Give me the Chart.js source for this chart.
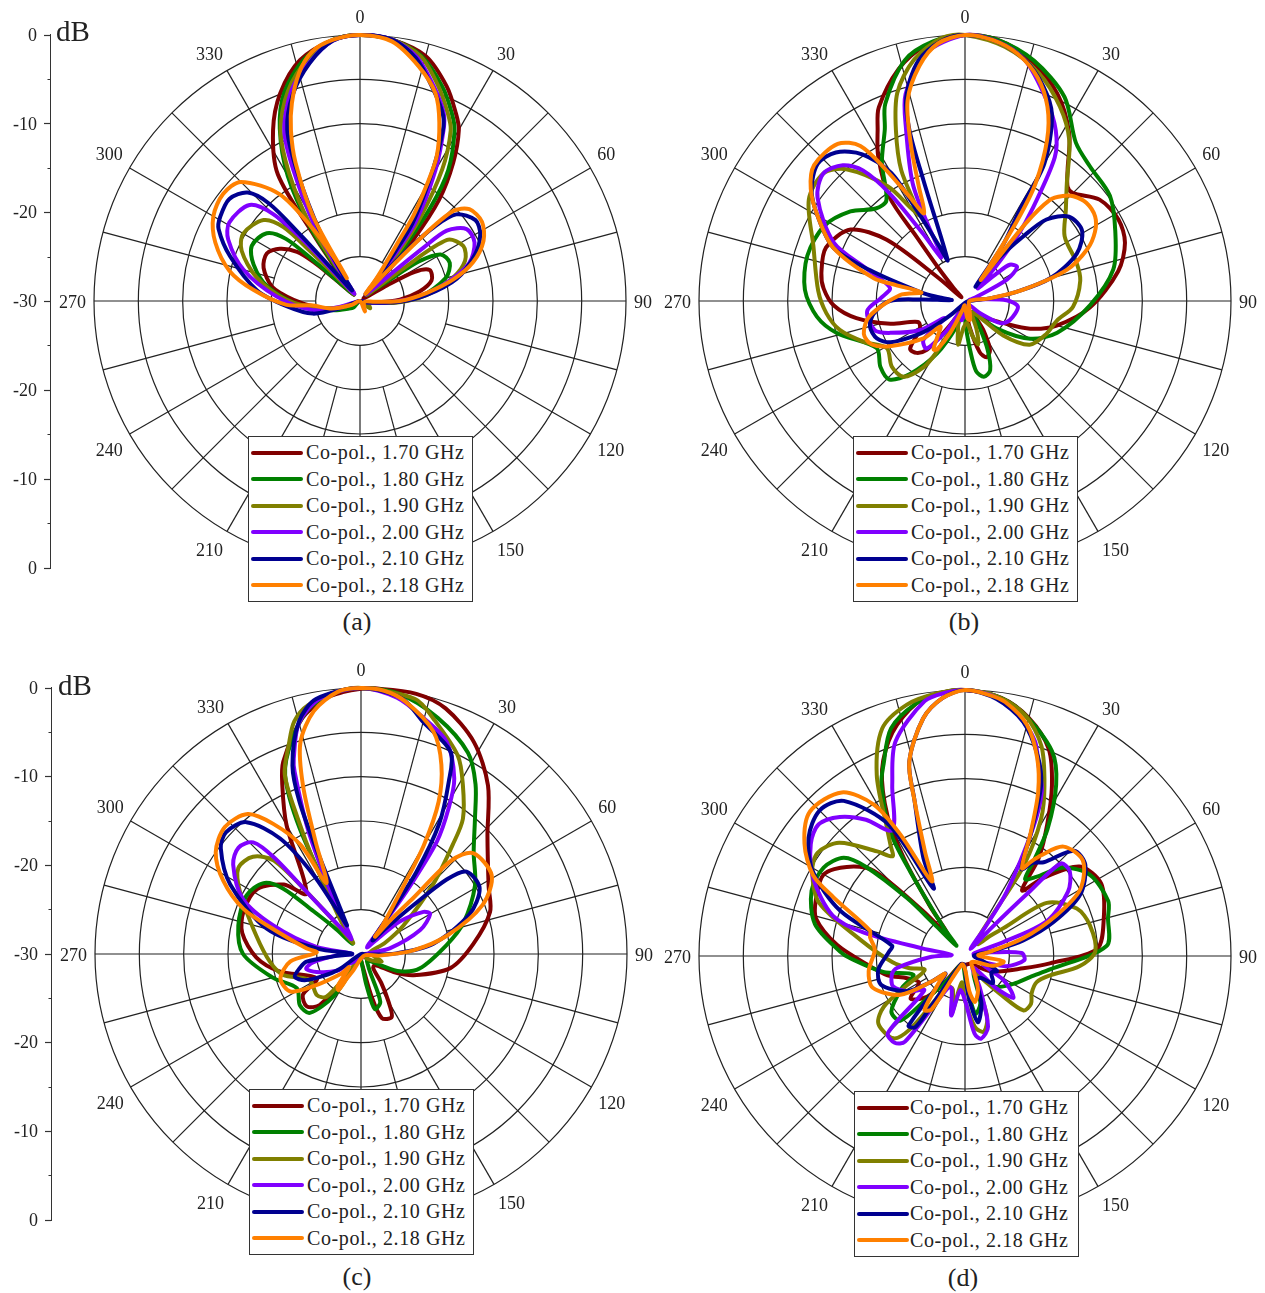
<!DOCTYPE html>
<html>
<head>
<meta charset="utf-8">
<title>Co-pol. radiation patterns</title>
<script src="https://cdn.jsdelivr.net/npm/chart.js@4"></script>
<style>
  html, body { margin: 0; padding: 0; background: #fff; }
  #page { position: relative; width: 1265px; height: 1293px; overflow: hidden; font-family: 'Liberation Serif', serif; color: #222; }
  #page canvas { position: absolute; }
  .legend { position: absolute; width: 223px; height: 164px; background: #fff; border: 1px solid #333; }
  .legend div { position: absolute; font-size: 20px; letter-spacing: .6px; line-height: 22px; white-space: nowrap; }
  .legend i { position: absolute; left: 2px; width: 52px; height: 4px; border-radius: 2px; }
  .cap { position: absolute; font-size: 26px; transform: translateX(-50%); }
  .unit { position: absolute; font-size: 29px; }
</style>
</head>
<body>
<div id="page"></div>
<script>
const seriesNames = ['Co-pol., 1.70 GHz', 'Co-pol., 1.80 GHz', 'Co-pol., 1.90 GHz', 'Co-pol., 2.00 GHz', 'Co-pol., 2.10 GHz', 'Co-pol., 2.18 GHz'];
const seriesColors = ['#800000', '#008000', '#808000', '#8000ff', '#000090', '#ff8000'];
const angleLabels = Array.from({ length: 360 }, (_, i) => i);
const axisTicks = [-30, -25, -20, -15, -10, -5, 0, 5, 10, 15, 20, 25, 30];

// [angle in degrees, gain in dB]
const a170 = [[0,0],[7,-.3],[15,-1.4],[22,-3.9],[27,-6.2],[30,-7.7],[34,-11.2],[38,-15.5],[41,-20.9],[44,-26.7],[47,-29],[55,-29.5],[60,-26.5],[62,-23],[66,-21.4],[74,-21.6],[81,-23.2],[88,-25.5],[94,-28],[105,-29.6],[180,-30],[240,-29.4],[250,-27.6],[262,-25],[271,-22.5],[279,-20],[289,-18.5],[297,-18.2],[303,-19.2],[308,-21],[310,-23.1],[311,-26],[316,-29],[321,-28.5],[323,-26],[325,-21],[327,-13],[333,-8.4],[339,-4.9],[346,-2],[354,-.4]];
const a180 = [[0,0],[7,-.3],[14,-1.5],[21,-4.1],[26,-6.4],[29,-8],[34,-12.2],[37,-16.8],[40,-23],[43,-27],[46,-29],[52,-28],[55,-25],[56,-22],[60,-19.5],[67,-19],[75,-20],[86,-23.2],[92,-26.5],[100,-29],[125,-29],[180,-30],[225,-29],[235,-28.5],[251,-26.8],[266,-23.2],[279,-19.4],[289,-17.3],[297,-16.3],[306,-17],[310,-19.1],[311,-23],[312,-27],[318,-29],[324,-26],[326,-20],[330,-13.7],[335,-8.6],[340,-5],[347,-2],[354,-.4]];
const a190 = [[0,0],[7,-.3],[14,-1.6],[20,-4.2],[25,-6.6],[28,-8.2],[32,-12.5],[36,-18.6],[39,-24],[41,-27],[45,-29],[51,-28],[53,-24],[55,-18],[62,-16.8],[69,-17.3],[76,-19.2],[85,-22.5],[93,-26],[100,-29],[126,-28.6],[150,-30],[210,-30],[250,-28],[260,-25.4],[271,-21.7],[283,-18],[293,-15.5],[300,-14.8],[310,-15.8],[314,-18],[315,-22],[316,-26.7],[321,-29],[325,-26],[327,-19.5],[331,-13.5],[335,-8.8],[341,-5],[348,-2],[354,-.4]];
const a200 = [[0,0],[7,-.3],[13,-1.7],[19,-4.4],[24,-6.8],[26,-8.5],[30,-13],[35,-19],[37,-24],[38,-27],[42,-29],[47,-28],[49,-25],[50,-20.6],[51,-17.4],[56,-15.5],[63,-15.5],[71,-17],[78,-20],[86,-23.6],[93,-27],[100,-29],[180,-30],[254,-27.7],[259,-24.6],[273,-20.6],[285,-16.4],[295,-13.6],[301,-12.8],[311,-13.5],[315,-16.1],[317,-20.6],[318,-26],[322,-29],[326,-26],[329,-20],[333,-13.5],[336,-9],[342,-5],[348,-2.5],[354,-.5]];
const a210 = [[0,0],[7,-.3],[13,-1.9],[19,-4.7],[24,-7],[26,-8.7],[29,-13],[34,-19.4],[36,-25],[38,-28],[39,-29],[41,-26],[43,-21.7],[45,-18.2],[48,-15.4],[55,-14.1],[61,-14.5],[68,-16],[77,-18.8],[85,-22.5],[91,-25.5],[100,-29],[180,-30],[250,-27.5],[255,-24.5],[266,-21.7],[276,-18.3],[289,-14.5],[297,-12.1],[301,-11.6],[308,-11.3],[314,-12.4],[317,-15],[318,-19.8],[319,-25.4],[323,-28.5],[327,-26.5],[330,-21],[334,-14],[337,-9],[342,-5.5],[348,-2.6],[354,-.5]];
const a218 = [[0,0],[7,-.5],[14,-2.7],[20,-5.1],[24,-8],[28,-11.6],[30,-15.1],[32,-18.6],[33,-22.3],[36,-26.8],[38,-29],[42,-26],[44,-20],[46,-15.4],[50,-13.9],[57,-13.6],[64,-14.5],[71,-16.5],[77,-19.2],[83,-22.4],[90,-25.5],[93,-28.5],[105,-29.5],[155,-28.7],[180,-30],[245,-29],[255,-26.7],[265,-24.5],[267,-21.7],[276,-17.9],[283,-14.9],[292,-12.4],[300,-10.9],[308,-10.4],[315,-11],[323,-14.9],[327,-20.4],[329,-24.2],[330,-27],[331,-19.1],[335,-12.8],[338,-9.2],[341,-6.4],[345,-3.4],[349,-1.4],[354,-.4]];

const b170 = [[0,0],[7,-.3],[15,-1.8],[24,-4.4],[32,-7.8],[38,-11.2],[42,-12.7],[45,-12.8],[53,-11],[62,-10.4],[70,-10.8],[79,-12.4],[93,-15.9],[105,-19.3],[113,-22],[120,-25],[135,-27.5],[145,-28],[148,-26],[153,-23.8],[159,-23.2],[164,-24],[170,-27],[180,-29.5],[200,-29.5],[208,-28],[215,-25.1],[218,-23],[223,-22],[229,-21.8],[238,-24],[246,-24.2],[253,-21.2],[261,-17.6],[268,-15.2],[275,-14],[281,-13.5],[291,-13.2],[302,-14.8],[308,-18.8],[311,-26],[316,-29.4],[319,-28],[321,-25.5],[323,-20.9],[324,-15.5],[329,-11],[333,-8.3],[336,-6.1],[344,-2.8],[351,-.9]];
const b180 = [[0,0],[7,-.3],[16,-1.8],[26,-4.4],[35,-8.2],[43,-9.3],[54,-9.8],[65,-11.3],[78,-12.9],[92,-15.9],[109,-19],[120,-21.5],[131,-25.3],[145,-28.5],[150,-27],[155,-24],[160,-21.7],[166,-21.2],[171,-22],[174,-24.4],[178,-27],[190,-29],[198,-27],[208,-23.3],[217,-19.7],[224,-17.7],[232,-17.9],[242,-18.7],[256,-15.1],[264,-13.2],[274,-11.9],[286,-11.5],[298,-12],[308,-13.6],[316,-15.5],[322,-15.6],[329,-11.8],[335,-8.6],[338,-6],[346,-2],[353,-.5]];
const b190 = [[0,0],[9,-1],[18,-3],[26,-5.6],[33,-8.4],[41,-12.5],[48,-14.7],[57,-16.6],[71,-16.7],[80,-16.8],[93,-17.8],[102,-19.4],[112,-20.1],[124,-21.2],[132,-24.2],[140,-28],[150,-28.5],[158,-26.5],[163,-24.9],[168,-26],[175,-27.5],[183,-27],[189,-25],[195,-27],[200,-28],[207,-26.3],[209,-23.5],[212,-21.2],[219,-19],[228,-18.9],[239,-19.7],[248,-17.7],[257,-15.5],[265,-14.3],[274,-13.4],[290,-11.8],[303,-9],[312,-8.5],[318,-10],[326,-14.4],[330,-18],[332,-19],[334,-13.6],[338,-9.2],[342,-5.3],[348,-2.2],[355,-.2]];
const b200 = [[0,0],[7,-.5],[14,-2],[22,-5.5],[28,-8.2],[32,-10.9],[36,-16.9],[39,-20.7],[42,-25],[45,-28],[49,-25.3],[51,-23.5],[57,-23],[63,-24.7],[70,-28.6],[78,-29.5],[84,-28],[89,-25.3],[96,-24],[113,-24.5],[122,-25.3],[129,-27.8],[140,-29.5],[170,-29],[190,-27.8],[205,-28.5],[212,-26],[219,-23.1],[227,-23.6],[230,-27],[237,-24],[247,-20.8],[252,-19.3],[264,-18.9],[272,-20.5],[280,-21.4],[288,-18.4],[294,-13.8],[305,-9.7],[312,-8.5],[318,-9.4],[322,-11.3],[325,-15.2],[328,-21],[331,-24.4],[333,-24],[334,-20.6],[336,-15.5],[341,-9.6],[344,-5.7],[351,-1.7]];
const b210 = [[0,0],[7,-.5],[14,-2],[20,-4.2],[25,-6.8],[30,-12.1],[31,-18],[34,-22.2],[36,-28],[38,-24.2],[42,-20.2],[45,-17],[51,-14.9],[59,-14.6],[67,-16.3],[75,-20],[80,-24.1],[84,-27.2],[90,-29.5],[180,-29.8],[225,-28],[231,-25.4],[235,-23.3],[241,-20.4],[247,-19.2],[255,-18.9],[262,-19.6],[270,-21.5],[272,-25],[274,-28.5],[278,-27],[281,-25],[288,-18.7],[292,-14],[300,-10.8],[306,-8.6],[313,-7.3],[319,-7.8],[325,-9.8],[330,-13.3],[332,-18.4],[335,-23.3],[337,-25],[341,-15.6],[342,-9.7],[344,-6],[349,-2.4],[355,-.5]];
const b218 = [[0,0],[6,-.4],[12,-1.5],[18,-3.5],[23,-6.2],[27,-9.6],[31,-14.6],[33,-19.2],[35,-25],[37,-27],[38,-19],[40,-15.1],[43,-13.8],[46,-13],[51,-12.4],[57,-12.5],[62,-13.4],[67,-15],[73,-18],[79,-23.3],[84,-27.2],[90,-29.5],[150,-29],[165,-27.8],[172,-28],[185,-29.5],[195,-29],[205,-26],[210,-23.7],[213,-23.5],[218,-25],[224,-26],[228,-23.7],[239,-20.1],[245,-18.4],[252,-18],[261,-19.1],[275,-22.6],[281,-25],[283,-22],[284,-19.4],[292,-14],[300,-10.8],[306,-8.5],[312,-7.1],[321,-7.2],[326,-8.9],[329,-12.8],[332,-16.7],[335,-19.1],[338,-16.1],[341,-11.2],[344,-6.5],[349,-3],[354,-.8]];

const c170 = [[0,-.1],[3,0],[12,0],[19,-.7],[28,-2.9],[37,-6.2],[47,-10.5],[62,-13.7],[72,-14.7],[85,-17.3],[99,-19.8],[112,-23.6],[119,-25.8],[128,-28],[139,-27.9],[145,-26],[150,-23.8],[154,-22.1],[162,-22.4],[166,-25],[172,-28.5],[195,-29.5],[208,-28.5],[214,-27],[219,-22.6],[226,-21.5],[235,-22],[241,-24.3],[258,-20.6],[268,-18.2],[280,-16.4],[290,-15.9],[302,-16.2],[312,-18.3],[318,-20.8],[330,-13.2],[335,-9],[338,-6.6],[346,-2.6],[352,-.9],[356,-.4]];
const c180 = [[0,0],[8,-.3],[18,-2],[28,-4.3],[34,-6.9],[40,-10],[48,-12.9],[59,-15],[73,-17.9],[84,-20.3],[104,-23.2],[114,-25.2],[120,-27.5],[135,-29],[148,-28.5],[153,-27.8],[158,-24.2],[166,-23.6],[170,-26.4],[176,-29],[195,-29.5],[208,-28.5],[213,-24.3],[221,-21.2],[230,-21],[242,-21.8],[255,-19.7],[270,-16.7],[283,-15.8],[297,-15.5],[306,-16.4],[310,-18.5],[312,-22.8],[315,-26],[320,-28.5],[327,-27],[332,-23.3],[334,-14.2],[337,-8.1],[342,-4.7],[348,-1.7],[355,-.3]];
const c190 = [[0,0],[12,-.6],[17,-2.2],[26,-5.1],[31,-7.7],[37,-10.9],[40,-13.9],[46,-18.7],[56,-24.2],[65,-27],[80,-29],[100,-28.5],[110,-27.5],[120,-28.5],[140,-29.5],[200,-29.5],[214,-27.1],[219,-23.8],[227,-23.2],[243,-23.5],[255,-20.9],[265,-19.7],[280,-18],[297,-14.7],[305,-13.1],[312,-13.6],[317,-15.6],[319,-21.2],[321,-26],[325,-28.5],[329,-25.3],[333,-18.3],[335,-13.1],[337,-8],[341,-5],[344,-2.7],[348,-1.3],[355,-.3]];
const c200 = [[0,0],[8,-.8],[15,-2.5],[22,-4.2],[28,-7.6],[31,-10.8],[34,-14.7],[36,-21.3],[37,-26.9],[42,-29],[48,-27],[50,-24.3],[56,-21.5],[60,-21],[68,-22.8],[79,-26.7],[90,-29.5],[180,-29.5],[232,-28],[235,-26.7],[248,-24.6],[255,-23.6],[260,-24.5],[266,-27],[272,-29],[279,-24.9],[288,-19.6],[295,-15.3],[305,-12.4],[311,-11.7],[316,-12.5],[318,-15.4],[319,-21.7],[322,-26],[327,-28],[330,-27.5],[334,-22.1],[337,-14.6],[340,-8.1],[341,-6.7],[345,-3],[351,-.8]];
const c210 = [[0,0],[9,-.8],[15,-2.9],[24,-5.1],[27,-8.2],[31,-12.9],[34,-18.8],[36,-25],[40,-28],[44,-26],[47,-21.9],[49,-17.2],[52,-14.9],[61,-14.7],[70,-17],[82,-21.8],[89,-26],[96,-29.3],[180,-30],[235,-27],[240,-25],[245,-23],[251,-22.1],[257,-22.9],[262,-23.8],[265,-26.9],[271,-29],[277,-25],[285,-19],[298,-13.3],[307,-10.2],[312,-9.5],[319,-10.3],[325,-14.1],[329,-19.6],[333,-26],[334,-26.4],[337,-17.4],[338,-11.5],[340,-7.4],[345,-2.9],[350,-.8]];
const c218 = [[0,0],[5,-.2],[10,-1.1],[18,-3.6],[23,-6.8],[27,-10.7],[30,-15.8],[32,-21],[37,-26],[39,-27.5],[41,-25],[43,-21.4],[44,-15.4],[48,-13],[59,-12.8],[68,-15.2],[78,-20.1],[86,-24.1],[95,-27.9],[105,-29.5],[180,-29.5],[205,-28],[210,-26.8],[212,-25.2],[216,-25.5],[222,-28],[225,-26.9],[236,-23.5],[242,-21],[253,-20.5],[264,-22],[272,-25],[276,-23.8],[285,-20.2],[291,-15.8],[298,-12.4],[305,-10],[313,-9],[321,-9.7],[326,-12.3],[331,-15.9],[334,-21.1],[338,-16.3],[341,-9.9],[344,-5.2],[349,-2.1],[355,-.3]];

const d170 = [[0,0],[8,-.6],[15,-2.2],[22,-4.8],[27,-8.4],[32,-12.5],[37,-16.2],[41,-20.2],[45,-17.6],[52,-13.6],[62,-12.6],[75,-13.8],[87,-15.1],[95,-20.4],[102,-23.3],[119,-26.4],[135,-28.5],[150,-29],[180,-29],[205,-29],[218,-26],[223,-23.7],[232,-22.2],[240,-24],[249,-23],[256,-21],[264,-19.2],[275,-15.5],[284,-12.7],[291,-12],[300,-11.6],[307,-13.3],[313,-15.9],[317,-23.1],[321,-27],[325,-23],[328,-17],[331,-12],[336,-7],[342,-3.5],[349,-1],[355,-.2]];
const d180 = [[0,0],[7,-.5],[13,-1.7],[23,-4.9],[28,-8.1],[33,-12.9],[36,-16.9],[38,-19],[42,-18],[48,-15.1],[57,-13.2],[69,-12.7],[75,-13.3],[86,-14],[99,-20.3],[108,-22.3],[120,-23.7],[136,-25.2],[150,-28],[162,-24.4],[170,-23.4],[178,-27],[200,-29],[215,-27],[222,-23.3],[225,-19.7],[233,-19.6],[243,-22],[250,-23.8],[259,-20.6],[269,-17],[272,-15.9],[282,-12.7],[293,-11.2],[302,-11.2],[309,-12.4],[312,-15],[315,-20.8],[316,-25],[320,-28.5],[323,-26],[327,-18.7],[329,-13.6],[334,-8.5],[337,-6.5],[342,-3],[349,-1],[355,-.2]];
const d190 = [[0,0],[7,-.5],[14,-2],[20,-4.8],[25,-8.8],[29,-12.3],[33,-17.8],[34,-24.9],[38,-28],[48,-28],[51,-26.5],[54,-24.7],[57,-19],[67,-16.3],[76,-15.5],[88,-15.3],[95,-17],[103,-20.2],[110,-21.4],[119,-21.4],[126,-20.8],[133,-21],[137,-24],[142,-26.5],[150,-28],[160,-22.7],[166,-21.2],[172,-21.9],[180,-25],[187,-27],[193,-23.2],[200,-26],[212,-26],[214,-24],[217,-19.6],[221,-17.7],[232,-17.6],[238,-19.2],[243,-22.5],[251,-25.2],[258,-23.5],[265,-21.8],[279,-18],[290,-12.5],[299,-10.3],[305,-9.7],[312,-10.9],[320,-14.6],[324,-16.1],[326,-15],[329,-12.8],[334,-7.3],[340,-2.7],[347,-.9],[354,-.2]];
const d200 = [[0,0],[6,-.5],[12,-2],[18,-4.5],[21,-6.9],[25,-9.5],[28,-13.7],[33,-21.4],[35,-26],[38,-29],[43,-26],[45,-20],[46,-15],[51,-14.8],[58,-16.3],[67,-20],[70,-25.4],[75,-29],[82,-27],[87,-23.6],[94,-23.3],[104,-25.2],[112,-28],[122,-24.9],[127,-23.5],[131,-22.8],[136,-25],[145,-28.5],[155,-26],[162,-21.6],[169,-20.5],[173,-21.2],[180,-25],[188,-26.1],[193,-23.1],[202,-26],[208,-26],[215,-18.2],[219,-17.4],[225,-17.7],[230,-24],[237,-22.6],[247,-21.2],[256,-21.5],[260,-22.2],[268,-26],[275,-28.5],[280,-25.2],[283,-18.3],[287,-14.4],[297,-10.8],[306,-8.5],[312,-7.8],[318,-8.9],[324,-11],[330,-13.6],[337,-9],[342,-4.6],[351,-.9],[356,-.2]];
const d210 = [[0,0],[7,-.8],[14,-2.8],[20,-6],[24,-8.9],[28,-14],[33,-18.3],[36,-17],[40,-16.2],[46,-12.9],[53,-13],[62,-15.3],[69,-19.3],[75,-23.2],[80,-27],[88,-29],[105,-28],[115,-26],[122,-26.5],[134,-25.6],[145,-27],[155,-27],[161,-24.3],[169,-22.4],[175,-25.4],[185,-29],[205,-29],[214,-23],[215,-20.2],[219,-19.9],[227,-27],[233,-25],[239,-22.3],[251,-20],[261,-20.1],[273,-21.4],[278,-21.7],[290,-15],[299,-10.4],[307,-7.9],[315,-6.8],[322,-7.8],[330,-13],[335,-21.6],[337,-18],[342,-11.6],[344,-7.2],[350,-2.8],[355,-.8]];
const d218 = [[0,0],[5,-.4],[9,-1],[15,-3],[20,-6.2],[24,-9.7],[28,-14.2],[33,-18.2],[35,-17],[37,-15.8],[42,-13.4],[51,-12.9],[60,-15],[66,-18.7],[73,-23.1],[80,-27],[88,-28.5],[98,-25.6],[109,-26.6],[118,-28.5],[135,-29],[150,-28],[159,-25.9],[168,-24.7],[173,-26],[180,-28.5],[200,-29],[212,-22.9],[217,-22.4],[225,-26],[229,-27],[232,-25.5],[239,-21.5],[251,-19],[261,-19],[274,-19.8],[281,-19.1],[285,-18.9],[294,-13.8],[298,-10.6],[305,-7.9],[313,-6.1],[323,-6.9],[329,-10.1],[332,-14.5],[336,-20.8],[339,-17.4],[342,-11.6],[344,-7.2],[350,-2.8],[355,-.8]];

const page = document.getElementById('page');
const font = { family: "'Liberation Serif', serif", size: 18 };
const gridColor = '#222';
const polarRadius = 266;

// spokes stop short of the centre: every 30 deg at the -25 dB ring, the rest at -20 dB
const spokes = {
  id: 'spokes',
  afterLayout(chart) {
    // angle labels sit a little lower than the radar puts them
    chart.scales.r._pointLabelItems.forEach((item) => { item.y += 2.5; });
  },
  beforeDatasetsDraw(chart) {
    const s = chart.scales.r, ctx = chart.ctx;
    ctx.save();
    ctx.strokeStyle = gridColor;
    ctx.lineWidth = 1.2;
    for (let deg = 0; deg < 360; deg += 15) {
      const a = s.getPointPositionForValue(deg, deg % 30 === 0 ? -25 : -20);
      const b = s.getPointPositionForValue(deg, 0);
      ctx.beginPath();
      ctx.moveTo(a.x, a.y);
      ctx.lineTo(b.x, b.y);
      ctx.stroke();
    }
    ctx.restore();
  },
};

function seriesData(pairs) {
  const out = angleLabels.map(() => null);
  pairs.forEach(([deg, db]) => { out[deg] = db; });
  return out;
}

function addPolar(series, cx, cy) {
  const canvas = document.createElement('canvas');
  const W = 660;
  let H = 610;
  canvas.width = W;
  canvas.height = H;
  canvas.style.top = '0px';
  page.appendChild(canvas);
  const chart = new Chart(canvas, {
    type: 'radar',
    data: {
      labels: angleLabels,
      datasets: series.map((pairs, i) => ({
        label: seriesNames[i],
        data: seriesData(pairs),
        borderColor: seriesColors[i],
        backgroundColor: 'transparent',
        borderWidth: 4,
        borderJoinStyle: 'round',
        pointRadius: 0,
        tension: 0.3,
        spanGaps: true,
        fill: false,
        order: series.length - i,
      })),
    },
    options: {
      responsive: false,
      animation: false,
      plugins: { legend: { display: false }, tooltip: { enabled: false } },
      scales: {
        r: {
          min: -30,
          max: 0,
          ticks: { display: false, stepSize: 5 },
          grid: { circular: true, color: gridColor, lineWidth: 1.2 },
          angleLines: { display: false },
          pointLabels: {
            padding: 8,
            color: '#222',
            font,
            callback: (v) => (v % 30 === 0 ? String(v) : ''),
          },
        },
      },
    },
    plugins: [spokes],
  });
  // the radar sizes itself around its labels, so nudge it to the wanted radius and centre
  for (let i = 0; i < 3; i++) {
    const diff = polarRadius - chart.scales.r.drawingArea;
    if (!diff) break;
    H += 2 * diff;
    chart.resize(W, H);
  }
  const s = chart.scales.r;
  canvas.style.left = (cx - s.xCenter) + 'px';
  canvas.style.top = (cy - s.yCenter) + 'px';
  return chart;
}

function addAxis(x, top, bottom) {
  const pad = 20;
  const canvas = document.createElement('canvas');
  canvas.width = x + 1;
  canvas.height = bottom - top + pad * 2;
  canvas.style.left = '0px';
  canvas.style.top = (top - pad) + 'px';
  page.appendChild(canvas);
  return new Chart(canvas, {
    type: 'line',
    data: { labels: [], datasets: [] },
    options: {
      responsive: false,
      animation: false,
      layout: { padding: { top: pad, bottom: pad, left: 0, right: 0 } },
      plugins: { legend: { display: false }, tooltip: { enabled: false } },
      scales: {
        x: { display: false },
        y: {
          min: axisTicks[0],
          max: axisTicks[axisTicks.length - 1],
          afterFit: (s) => { s.width = x + 1; },
          afterBuildTicks: (s) => { s.ticks = axisTicks.map((value) => ({ value })); },
          border: { display: true, color: '#333', width: 1.5 },
          grid: {
            drawOnChartArea: false,
            tickLength: 7,
            tickColor: '#333',
            tickWidth: 1.2,
            tickBorderDash: (c) => (c.tick && c.tick.value % 10 ? [0, 3.5, 3.5, 20] : []),
          },
          ticks: {
            autoSkip: false,
            padding: 7,
            labelOffset: 1,
            color: '#222',
            font: { family: font.family, size: 18 },
            callback: (v) => (v % 10 ? '' : String(Math.abs(v) - 30)),
          },
        },
      },
    },
  });
}

function addLegend(left, top, textLeft) {
  const box = document.createElement('div');
  box.className = 'legend';
  box.style.left = left + 'px';
  box.style.top = top + 'px';
  seriesNames.forEach((name, i) => {
    const row = 15.5 + i * 26.5;
    const swatch = document.createElement('i');
    swatch.style.top = (row - 2) + 'px';
    swatch.style.background = seriesColors[i];
    const text = document.createElement('div');
    text.textContent = name;
    text.style.left = textLeft + 'px';
    text.style.top = (row - 11.5) + 'px';
    box.append(swatch, text);
  });
  page.appendChild(box);
}

function addText(cls, str, x, y) {
  const el = document.createElement('div');
  el.className = cls;
  el.textContent = str;
  el.style.left = x + 'px';
  el.style.top = y + 'px';
  page.appendChild(el);
}

addPolar([a170, a180, a190, a200, a210, a218], 360, 301);
addPolar([b170, b180, b190, b200, b210, b218], 965, 301);
addPolar([c170, c180, c190, c200, c210, c218], 361, 954);
addPolar([d170, d180, d190, d200, d210, d218], 965, 956);

addAxis(50, 35, 568);
addAxis(51, 688, 1220);

addLegend(248, 436, 57);
addLegend(853, 436, 57);
addLegend(249, 1089, 57);
addLegend(854, 1091, 55);

addText('unit', 'dB', 56, 15);
addText('unit', 'dB', 58, 669);
addText('cap', '(a)', 357, 607);
addText('cap', '(b)', 964, 607);
addText('cap', '(c)', 357, 1262);
addText('cap', '(d)', 963, 1263);
</script>
</body>
</html>
